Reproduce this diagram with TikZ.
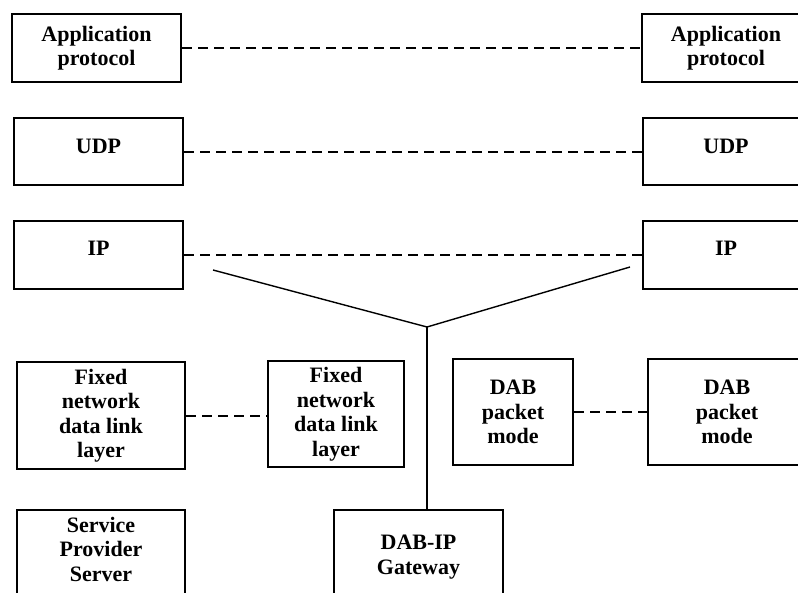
\documentclass[tikz,border=0pt]{standalone}
\usepackage{fontspec}
\setmainfont{Liberation Serif}
\begin{document}
\begin{tikzpicture}[x=1pt,y=-1pt,
  layerbox/.style={draw, line width=2pt, rectangle, inner sep=0pt,
    align=center, anchor=north west,
    font=\fontsize{22}{24.5}\selectfont\bfseries},
  peerlink/.style={line width=2pt, dash pattern=on 10pt off 6pt},
  wire/.style={line width=1.4pt}]
\useasboundingbox (0,0) rectangle (798,592);

% protocol stacks, left and right ends
\node[layerbox, minimum width=169pt, minimum height=68pt] (appL) at (11,13) {Application\\protocol};
\node[layerbox, minimum width=168pt, minimum height=68pt] (appR) at (641,13) {Application\\protocol};
\node[layerbox, minimum width=169pt, minimum height=67pt, text depth=10pt] (udpL) at (13,117) {UDP};
\node[layerbox, minimum width=166pt, minimum height=67pt, text depth=10pt] (udpR) at (642,117) {UDP};
\node[layerbox, minimum width=169pt, minimum height=68pt, text depth=14pt] (ipL) at (13,220) {IP};
\node[layerbox, minimum width=166pt, minimum height=68pt, text depth=14pt] (ipR) at (642,220) {IP};

% link layers
\node[layerbox, minimum width=168pt, minimum height=107pt] (fixL) at (16,361) {Fixed\\network\\data link\\layer};
\node[layerbox, minimum width=136pt, minimum height=106pt] (fixR) at (267,360) {Fixed\\network\\data link\\layer};
\node[layerbox, minimum width=120pt, minimum height=106pt] (dabL) at (452,358) {DAB\\packet\\mode};
\node[layerbox, minimum width=158pt, minimum height=106pt] (dabR) at (647,358) {DAB\\packet\\mode};

% equipment
\node[layerbox, minimum width=168pt, minimum height=120pt, text depth=42pt] (srv) at (16,509) {Service\\Provider\\Server};
\node[layerbox, minimum width=169pt, minimum height=120pt, text depth=31pt] (gw) at (333,509) {DAB-IP\\Gateway};

% peer relations
\draw[peerlink] (appL.east) -- (appL.east -| appR.west);
\draw[peerlink] (udpL.east) -- (udpL.east -| udpR.west);
\draw[peerlink] (ipL.east) -- (ipL.east -| ipR.west);
\draw[peerlink] (fixL.east) -- (fixL.east -| fixR.west);
\draw[peerlink] (dabL.east) -- (dabL.east -| dabR.west);

% gateway attachment
\coordinate (ipend1) at (213,270);
\coordinate (ipend2) at (630,267);
\coordinate (hub) at (427,327);
\draw[wire] (ipend1) -- (hub) -- (ipend2);
\draw[wire] (hub) -- (hub |- gw.north);
\end{tikzpicture}
\end{document}
